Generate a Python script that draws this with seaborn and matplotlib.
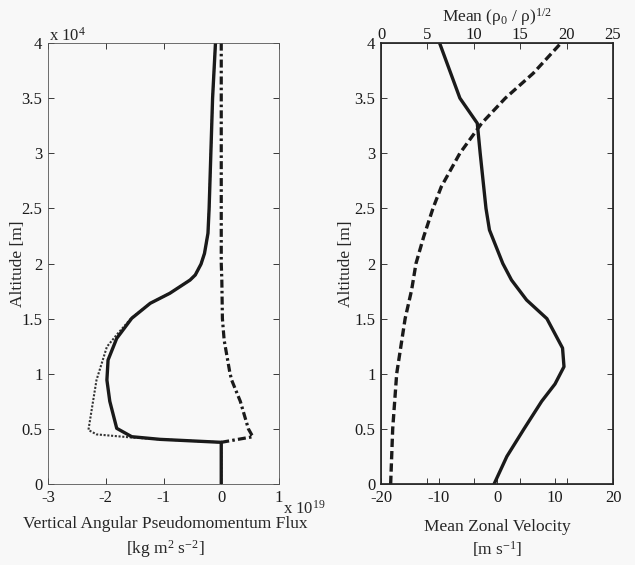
import numpy as np
import pandas as pd
import matplotlib
matplotlib.use("Agg")
import matplotlib.pyplot as plt
import seaborn as sns
from matplotlib.ticker import FuncFormatter

sns.set_theme(style="ticks")
plt.rcParams['font.family'] = ['Liberation Serif', 'DejaVu Serif']
plt.rcParams['mathtext.fontset'] = 'custom'
plt.rcParams['mathtext.rm'] = 'Liberation Serif'
plt.rcParams['mathtext.it'] = 'Liberation Serif:italic'
plt.rcParams['mathtext.default'] = 'regular'
plt.rcParams['axes.unicode_minus'] = False

# Left panel: vertical angular pseudomomentum flux (units of 1e19)
alt_solid = [0, 3780, 4050, 4290, 5050, 7500, 9430, 11250, 13210, 15030, 16390,
             17300, 18500, 18960, 19950, 20920, 22740, 25000, 30000, 35000, 40000]
flux_solid = [0, 0, -1.06, -1.55, -1.81, -1.93, -1.98, -1.96, -1.81, -1.55, -1.23,
              -0.89, -0.54, -0.45, -0.35, -0.29, -0.23, -0.21, -0.18, -0.15, -0.10]

alt_dotted = [0, 3780, 4050, 4230, 4500, 4900, 7500, 9430, 10940, 12450, 13600,
              15030, 16390, 17300, 18500, 18960, 19950, 20920, 22740, 25000, 30000, 35000, 40000]
flux_dotted = [0, 0, -1.06, -1.58, -2.16, -2.30, -2.22, -2.16, -2.07, -1.98, -1.80,
               -1.56, -1.23, -0.89, -0.54, -0.45, -0.35, -0.29, -0.23, -0.21, -0.18, -0.15, -0.10]

alt_dashdot = [3780, 4290, 4440, 5000, 7500, 9430, 10070, 13060, 15000, 18500, 20000, 25000, 30000, 40000]
flux_dashdot = [0, 0.55, 0.53, 0.47, 0.33, 0.18, 0.15, 0.05, 0.02, 0.01, 0.0, 0.0, 0.0, 0.0]

# Right panel: mean zonal velocity (bottom axis) and mean density ratio (top axis)
alt_u = [0, 2500, 5000, 7500, 9070, 10640, 12330, 15000, 16690, 18500, 20000,
         23040, 25000, 30000, 32720, 35000, 40000]
u_mean = [-0.5, 1.7, 4.66, 7.7, 10.0, 11.55, 11.3, 8.6, 5.1, 2.5, 1.0,
          -1.3, -1.9, -2.9, -3.4, -6.4, -9.9]

alt_rho = [0, 5000, 10000, 15000, 17600, 20000, 22430, 25000, 26970, 30000, 32720, 35000, 37250, 40000]
rho_ratio = [1.04, 1.26, 1.69, 2.6, 3.3, 3.77, 4.6, 5.6, 6.5, 8.5, 10.85, 13.4, 16.4, 19.4]

bg = '#f8f8f8'
fig = plt.figure(figsize=(6.35, 5.65), dpi=100, facecolor=bg)
fs = 12.5
ts = 12

alt_fmt = FuncFormatter(lambda v, p: '%g' % (v / 1e4))


def style_axis(ax):
    ax.set_facecolor(bg)
    ax.tick_params(direction='in', length=4, width=0.6, labelsize=ts, colors='k', pad=4)
    for s in ax.spines.values():
        s.set_visible(True)
        s.set_linewidth(0.6)
        s.set_color('#555555')


# ---- left panel ----
ax1 = fig.add_axes([48 / 635, 81 / 565, 231 / 635, 441 / 565])
sns.lineplot(x=flux_dotted, y=alt_dotted, sort=False, estimator=None, color='#333333',
             lw=1.5, linestyle=(0, (1, 0.8)), ax=ax1)
sns.lineplot(x=flux_dashdot, y=alt_dashdot, sort=False, estimator=None, color='k',
             lw=2.3, linestyle=(0, (2.5, 1, 0.8, 1)), ax=ax1)
sns.lineplot(x=flux_solid, y=alt_solid, sort=False, estimator=None, color='k',
             lw=2.4, ax=ax1)
ax1.set_xlim(-3, 1)
ax1.set_ylim(0, 40000)
ax1.set_xticks([-3, -2, -1, 0, 1])
ax1.set_yticks(np.arange(0, 40001, 5000))
ax1.yaxis.set_major_formatter(alt_fmt)
style_axis(ax1)
ax1.tick_params(top=True, right=True)
ax1.set_ylabel('Altitude [m]', fontsize=fs)
ax1.yaxis.set_label_coords((26 - 48) / 231, 0.5)
fig.text(49 / 635, 1 - 36 / 565, 'x 10$^{4}$', fontsize=ts, ha='left', va='center')
fig.text(283 / 635, 1 - 509 / 565, 'x 10$^{19}$', fontsize=ts, ha='left', va='center')
fig.text(165 / 635, 1 - 524 / 565, 'Vertical Angular Pseudomomentum Flux', fontsize=fs,
         ha='center', va='center')
fig.text(165 / 635, 1 - 549 / 565, '[kg m$^2$ s$^{-2}$]', fontsize=fs, ha='center', va='center')

# ---- right panel ----
ax2 = fig.add_axes([381 / 635, 81 / 565, 232 / 635, 441 / 565])
sns.lineplot(x=u_mean, y=alt_u, sort=False, estimator=None, color='k', lw=2.4, ax=ax2)
ax2.set_xlim(-20, 20)
ax2.set_ylim(0, 40000)
ax2.set_xticks([-20, -10, 0, 10, 20])
ax2.set_yticks(np.arange(0, 40001, 5000))
ax2.yaxis.set_major_formatter(alt_fmt)
style_axis(ax2)
ax2.tick_params(top=True, right=True)
ax2.set_ylabel('Altitude [m]', fontsize=fs)
ax2.yaxis.set_label_coords((354 - 381) / 232, 0.5)
fig.text(497 / 635, 1 - 527 / 565, 'Mean Zonal Velocity', fontsize=fs, ha='center', va='center')
fig.text(497 / 635, 1 - 549 / 565, '[m s$^{-1}$]', fontsize=fs, ha='center', va='center')

ax3 = ax2.twiny()
sns.lineplot(x=rho_ratio, y=alt_rho, sort=False, estimator=None, color='k', lw=2.4,
             linestyle=(0, (2.5, 1.2)), ax=ax3)
ax3.set_xlim(0, 25)
ax3.set_ylim(0, 40000)
ax3.set_xticks([0, 5, 10, 15, 20, 25])
ax3.set_facecolor('none')
ax3.tick_params(direction='in', length=4, width=0.6, labelsize=ts, colors='k', pad=0,
                top=True, bottom=True, labeltop=True, labelbottom=False)
ax3.set_xlabel('Mean (ρ$_0$ / ρ)$^{1/2}$', fontsize=fs, labelpad=4)
ax3.set_ylabel('')

fig.savefig('out.png', dpi=100, facecolor=bg)
